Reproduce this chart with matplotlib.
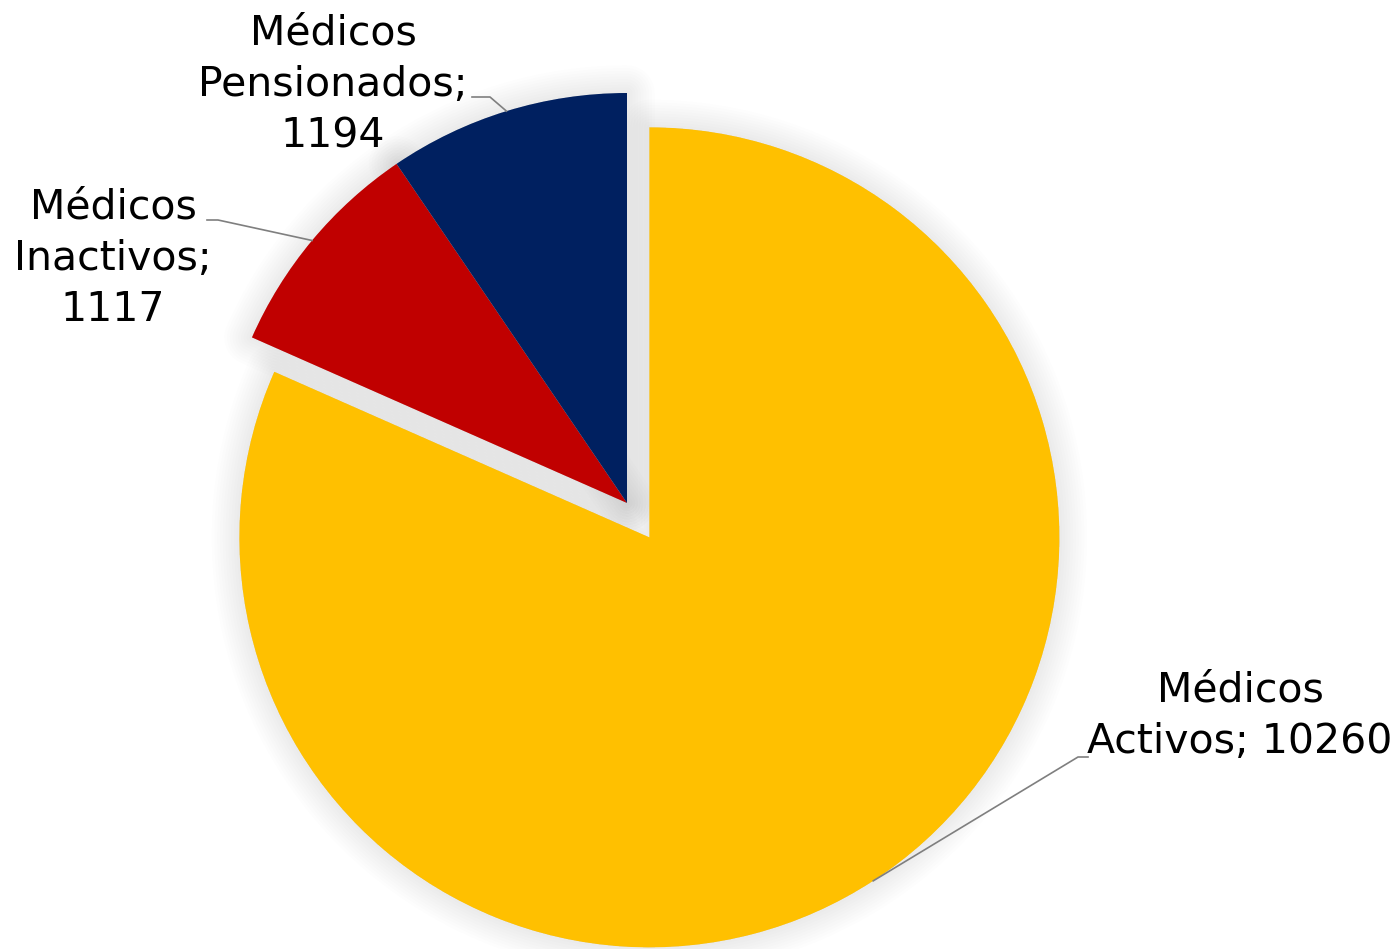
import matplotlib
matplotlib.use("Agg")
import matplotlib.pyplot as plt
from matplotlib.patches import Wedge
import numpy as np

# data
categories = ["Médicos Activos", "Médicos Inactivos", "Médicos Pensionados"]
values = [10260, 1117, 1194]
colors = ["#FFC000", "#C00000", "#002060"]
explode = [0.1, 0, 0]

W, H = 1393, 949
CX, CY, R = 627, 503, 410  # pie centre / radius in pixels


def px(x, y):
    """pixel (top-left origin) -> data coords (radius = 1)"""
    return (x - CX) / R, (CY - y) / R


fig = plt.figure(figsize=(W / 100, H / 100), dpi=100)
ax = fig.add_axes([0, 0, 1, 1])

wedges, _ = ax.pie(values, colors=colors, explode=explode, startangle=90,
                   counterclock=False, radius=1,
                   wedgeprops=dict(linewidth=0, zorder=3))

ax.set_xlim(-CX / R, (W - CX) / R)
ax.set_ylim(-(H - CY) / R, CY / R)
ax.set_aspect("equal")
ax.axis("off")

# soft shadow behind slices
for w in wedges:
    for lw in range(40, 0, -4):
        sh = Wedge(w.center, w.r, w.theta1, w.theta2, facecolor="#000000",
                   edgecolor="#000000", linewidth=lw, alpha=0.0075,
                   joinstyle="round", zorder=1)
        ax.add_patch(sh)

# labels
label_pos = [(1240, 716), (113, 259), (333, 85)]
label_txt = ["Médicos\nActivos; {}", "Médicos\nInactivos;\n{}", "Médicos\nPensionados;\n{}"]
elbows = [[(1088, 757), (1078, 757)], [(207, 220), (218, 220)], [(472, 97), (490, 97)]]

for w, pos, txt, v, elb in zip(wedges, label_pos, label_txt, values, elbows):
    ax.text(*px(*pos), txt.format(v), ha="center", va="center",
            multialignment="center", fontsize=29.5, color="#000000",
            family="DejaVu Sans", linespacing=1.36, zorder=5)
    mid = np.deg2rad((w.theta1 + w.theta2) / 2)
    ex = w.center[0] + w.r * np.cos(mid)
    ey = w.center[1] + w.r * np.sin(mid)
    xs = [px(*elb[0])[0], px(*elb[1])[0], ex]
    ys = [px(*elb[0])[1], px(*elb[1])[1], ey]
    ax.plot(xs, ys, color="#7F7F7F", lw=1.2, zorder=4)

fig.savefig("out.png", dpi=100)
